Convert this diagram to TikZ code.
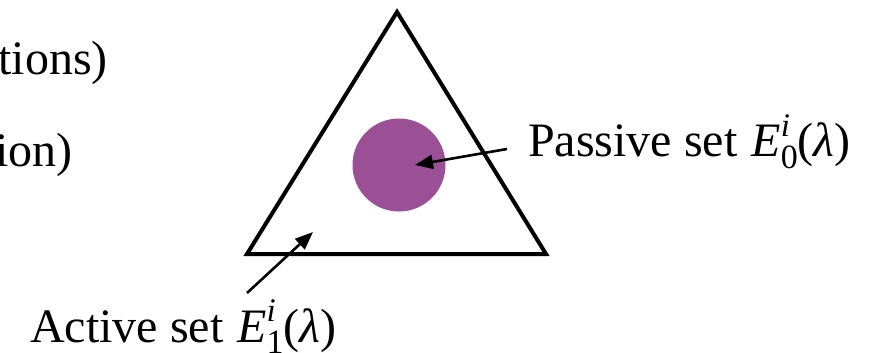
\documentclass[tikz,border=0pt]{standalone}
\usepackage{fontspec}
\setmainfont{Liberation Serif}
\usetikzlibrary{arrows.meta}
\definecolor{passivefill}{RGB}{155,80,150}
\newcommand{\setsym}[1]{\hspace{0.04em}\textit{E}\makebox[0pt][l]{\raisebox{0.42em}{\fontsize{33}{33}\selectfont\textit{i}}}\raisebox{-0.24em}{\fontsize{34}{34}\selectfont #1}(\textit{λ})}
\begin{document}
\begin{tikzpicture}[x=1pt,y=-1pt,
  lbl/.style={inner sep=0pt, font=\fontsize{48}{50}\selectfont},
  pointer/.style={line width=2.6pt, -{Triangle[length=18pt,width=14pt]}}]
\useasboundingbox (0,0) rectangle (887,353);
\draw[line width=4pt, line join=miter] (397,12) -- (546,254) -- (247,254) -- cycle;
\fill[passivefill] (399,165) circle[radius=46.5pt];
\node[lbl, anchor=base west] (passive) at (528,157) {Passive set \setsym{0}};
\node[lbl, anchor=base west] (active) at (30,342) {Active set \setsym{1}};
\node[lbl, anchor=base east] (cuta) at (108,75) {tions)};
\node[lbl, anchor=base east] (cutb) at (73,166) {ion)};
\coordinate (ptail) at (507,149);
\coordinate (ptip) at (415,165);
\coordinate (atail) at (247,293);
\coordinate (atip) at (313,232);
\draw[pointer] (ptail) -- (ptip);
\draw[pointer] (atail) -- (atip);
\end{tikzpicture}
\end{document}
